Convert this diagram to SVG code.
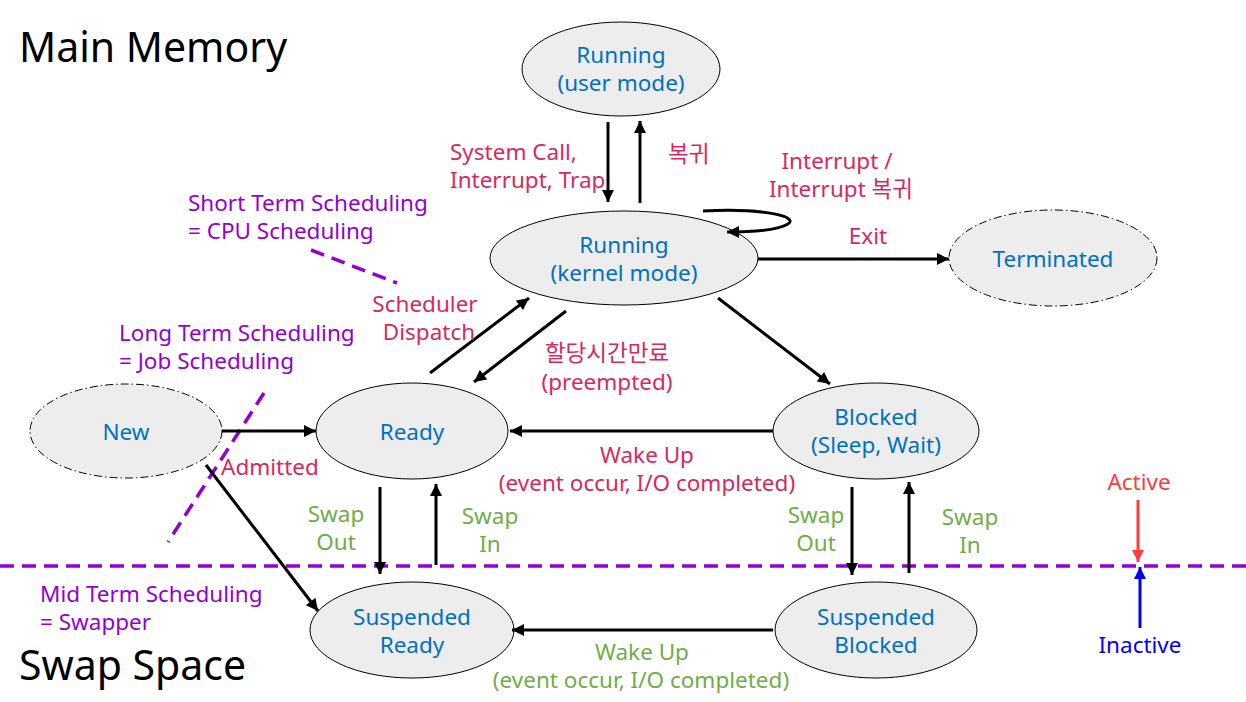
<svg xmlns="http://www.w3.org/2000/svg" width="1246" height="702" viewBox="0 0 1246 702">
<style>
text{font-family:"Noto Sans","Noto Sans CJK KR",sans-serif}
.node ellipse{fill:#ededed;stroke:#000;stroke-width:1}
.node ellipse.dd{stroke-dasharray:8 3 1.5 3}
.nt{fill:#0070c0;font-size:22.5px;text-anchor:middle}
.big{font-size:41px;fill:#000}
.lr{fill:#d9285e;font-size:22.5px}
.lp{fill:#9400d3;font-size:22.5px}
.lg{fill:#70ad47;font-size:22.5px}
.c{text-anchor:middle}
.conn line,.conn path{stroke:#000;stroke-width:3;fill:none}
.pd{stroke:#9400d3;stroke-width:3.5;stroke-dasharray:14 8;fill:none}
</style>
<defs>
<marker id="ah" viewBox="0 0 10 10" refX="10" refY="5" markerWidth="4.5" markerHeight="4" markerUnits="strokeWidth" orient="auto"><path d="M0,0L10,5L0,10z" fill="#000"/></marker>
<marker id="ahr" viewBox="0 0 10 10" refX="10" refY="5" markerWidth="4.5" markerHeight="4" markerUnits="strokeWidth" orient="auto"><path d="M0,0L10,5L0,10z" fill="#ff3b3b"/></marker>
<marker id="ahb" viewBox="0 0 10 10" refX="10" refY="5" markerWidth="4.5" markerHeight="4" markerUnits="strokeWidth" orient="auto"><path d="M0,0L10,5L0,10z" fill="#0000ff"/></marker>
</defs>
<rect width="1246" height="702" fill="#fff"/>

<text class="big" x="19" y="62">Main Memory</text>
<text class="big" x="19" y="680">Swap Space</text>

<line class="pd" x1="0" y1="566" x2="1246" y2="566"/>
<line class="pd" x1="311" y1="250" x2="397" y2="283"/>
<line class="pd" x1="264" y1="393" x2="168" y2="542"/>

<g id="n-user" class="node"><ellipse cx="621" cy="69" rx="99" ry="47"/><text class="nt" x="621" y="63">Running</text><text class="nt" x="621" y="91">(user mode)</text></g>
<g id="n-kernel" class="node"><ellipse cx="624" cy="258" rx="134" ry="47"/><text class="nt" x="624" y="253">Running</text><text class="nt" x="624" y="281">(kernel mode)</text></g>
<g id="n-term" class="node"><ellipse class="dd" cx="1053" cy="258" rx="104" ry="48"/><text class="nt" x="1053" y="267">Terminated</text></g>
<g id="n-new" class="node"><ellipse class="dd" cx="126" cy="431" rx="96" ry="47"/><text class="nt" x="126" y="440">New</text></g>
<g id="n-ready" class="node"><ellipse cx="412" cy="431" rx="96" ry="48"/><text class="nt" x="412" y="440">Ready</text></g>
<g id="n-blocked" class="node"><ellipse cx="876" cy="431" rx="103" ry="48"/><text class="nt" x="876" y="425">Blocked</text><text class="nt" x="876" y="453">(Sleep, Wait)</text></g>
<g id="n-sready" class="node"><ellipse cx="412" cy="630" rx="102" ry="48"/><text class="nt" x="412" y="625">Suspended</text><text class="nt" x="412" y="653">Ready</text></g>
<g id="n-sblocked" class="node"><ellipse cx="876" cy="630" rx="101" ry="48"/><text class="nt" x="876" y="625">Suspended</text><text class="nt" x="876" y="653">Blocked</text></g>

<g id="connectors" class="conn">
<line x1="608" y1="122" x2="608" y2="202" marker-end="url(#ah)"/>
<line x1="640" y1="203" x2="640" y2="121" marker-end="url(#ah)"/>
<path d="M703,211 C760,208 800,216 788,224 C778,230 755,232 727,232" marker-end="url(#ah)"/>
<line x1="758" y1="259" x2="949" y2="259" marker-end="url(#ah)"/>
<line x1="430" y1="373" x2="529" y2="298" marker-end="url(#ah)"/>
<line x1="566" y1="311" x2="474" y2="382" marker-end="url(#ah)"/>
<line x1="718" y1="298" x2="830" y2="384" marker-end="url(#ah)"/>
<line x1="773" y1="431" x2="510" y2="431" marker-end="url(#ah)"/>
<line x1="222" y1="431" x2="316" y2="431" marker-end="url(#ah)"/>
<line x1="206" y1="465" x2="318" y2="611" marker-end="url(#ah)"/>
<line x1="380" y1="487" x2="380" y2="574" marker-end="url(#ah)"/>
<line x1="436" y1="565" x2="436" y2="484" marker-end="url(#ah)"/>
<line x1="852" y1="487" x2="852" y2="575" marker-end="url(#ah)"/>
<line x1="909" y1="573" x2="909" y2="482" marker-end="url(#ah)"/>
<line x1="773" y1="630" x2="512" y2="630" marker-end="url(#ah)"/>
<line x1="1138" y1="500" x2="1138" y2="562" style="stroke:#ff3b3b" marker-end="url(#ahr)"/>
<line x1="1140" y1="628" x2="1140" y2="567" style="stroke:#0000ff" marker-end="url(#ahb)"/>
</g>

<g id="labels">
<text class="lr" x="450" y="160">System Call,</text>
<text class="lr" x="450" y="188">Interrupt, Trap</text>
<text class="lr" x="668" y="162">복귀</text>
<text class="lr c" x="837" y="169">Interrupt /</text>
<text class="lr c" x="841" y="197">Interrupt 복귀</text>
<text class="lr c" x="868" y="244">Exit</text>
<text class="lp" x="188" y="211">Short Term Scheduling</text>
<text class="lp" x="188" y="239">= CPU Scheduling</text>
<text class="lr c" x="425" y="312">Scheduler</text>
<text class="lr c" x="429" y="340">Dispatch</text>
<text class="lp" x="119" y="341">Long Term Scheduling</text>
<text class="lp" x="119" y="369">= Job Scheduling</text>
<text class="lr c" x="607" y="361">할당시간만료</text>
<text class="lr c" x="607" y="390">(preempted)</text>
<text class="lr" x="221" y="475">Admitted</text>
<text class="lr c" x="647" y="463">Wake Up</text>
<text class="lr c" x="647" y="491">(event occur, I/O completed)</text>
<text class="lg c" x="336" y="522">Swap</text>
<text class="lg c" x="336" y="550">Out</text>
<text class="lg c" x="490" y="524">Swap</text>
<text class="lg c" x="490" y="552">In</text>
<text class="lg c" x="816" y="523">Swap</text>
<text class="lg c" x="816" y="551">Out</text>
<text class="lg c" x="970" y="525">Swap</text>
<text class="lg c" x="970" y="553">In</text>
<text class="c" x="1139" y="490" style="fill:#ff3b3b;font-size:22.5px">Active</text>
<text class="c" x="1140" y="653" style="fill:#0000ff;font-size:22.5px">Inactive</text>
<text class="lp" x="40" y="602">Mid Term Scheduling</text>
<text class="lp" x="40" y="630">= Swapper</text>
<text class="lg c" x="642" y="660">Wake Up</text>
<text class="lg c" x="641" y="688">(event occur, I/O completed)</text>
</g>
</svg>
